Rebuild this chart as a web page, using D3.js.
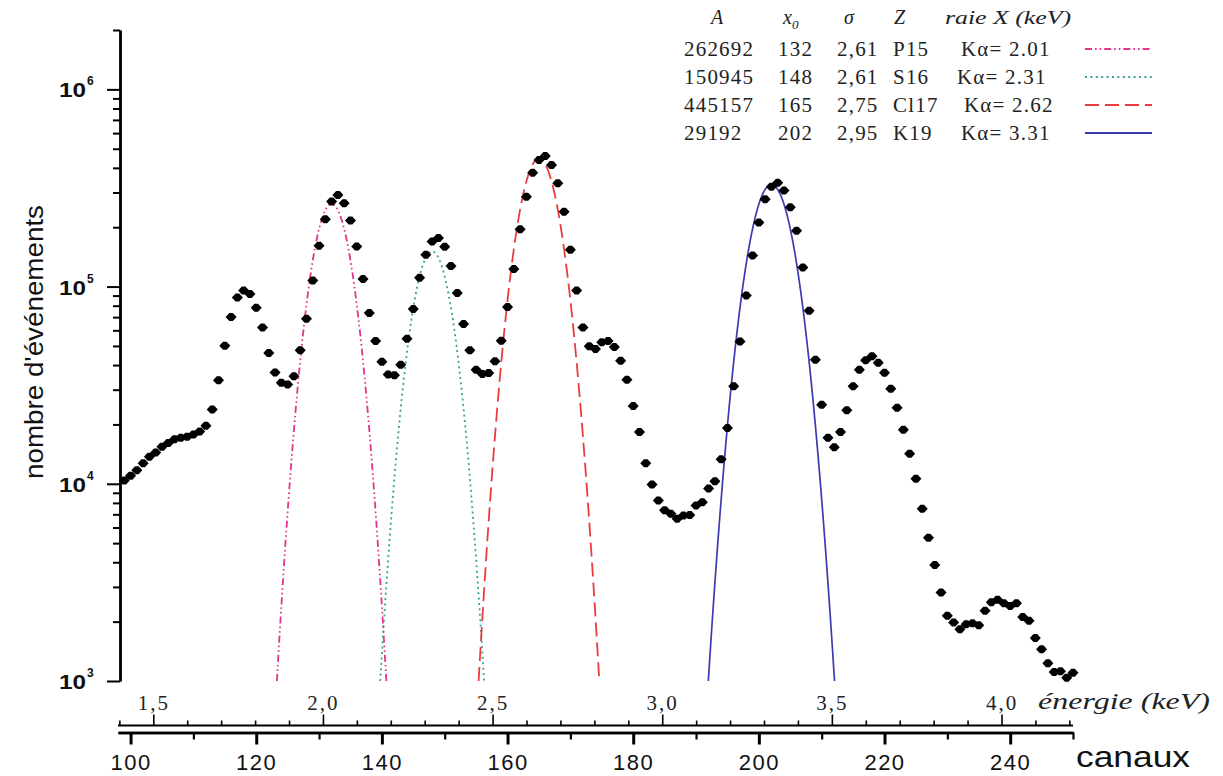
<!DOCTYPE html>
<html>
<head>
<meta charset="utf-8">
<script src="https://cdn.jsdelivr.net/npm/d3@7"></script>
<style>
  body { margin: 0; background: #fff; }
  svg { display: block; }
  .sans { font-family: "Liberation Sans", Arial, sans-serif; }
  .serif { font-family: "Liberation Serif", "Times New Roman", serif; }
</style>
</head>
<body>
<svg id="chart" width="1223" height="776"></svg>
<script>
// Measured spectrum: one count value per channel, starting at channel 99
const firstChannel = 99;
const counts = [
  10400, 11000, 11700, 12700, 13700, 14400, 15400, 16100, 16800, 17100,
  17300, 17800, 18400, 19700, 23800, 33500, 50100, 70100, 88100, 95500,
  91600, 78100, 62100, 46000, 36700, 32500, 31900, 35100, 47500, 68700,
  107400, 161000, 219600, 269700, 291500, 264800, 216100, 159600, 109400, 73400,
  53000, 41600, 35800, 35500, 40200, 54400, 76900, 110800, 144900, 169100,
  176100, 159100, 127000, 92700, 64600, 47500, 37900, 36000, 36500, 41800,
  53200, 78700, 122700, 195400, 285800, 378100, 438500, 459300, 413900, 334300,
  239900, 153600, 95500, 62100, 49800, 48300, 52200, 53000, 49400, 42100,
  33700, 24800, 18300, 12700, 9910, 8230, 7350, 7050, 6650, 6910,
  6940, 7770, 8070, 9470, 10300, 13300, 19200, 31200, 52700, 90200,
  143600, 211200, 277300, 321200, 336500, 306800, 252800, 191700, 125000, 75400,
  42600, 25200, 17100, 15300, 18300, 23600, 31200, 37900, 42300, 44300,
  41100, 36600, 30300, 24300, 18800, 14200, 10600, 7470, 5330, 3870,
  2810, 2140, 1980, 1830, 1940, 1960, 1920, 2270, 2510, 2580,
  2480, 2400, 2480, 2110, 2020, 1650, 1450, 1230, 1110, 1120,
  1040, 1100
];

// Gaussian fits of the K-alpha lines
const fitAmplitudes = [262692, 150945, 445157, 329192];
const fitCentroids = [132, 148, 165, 202];
const fitSigmas = [2.61, 2.61, 2.75, 2.95];
const fitColors = ["#e5338c", "#35a39c", "#ea3c3c", "#3b3bb2"];
const fitDashes = ["7,3,1.6,3,1.6,3", "2,3.4", "14,6", null];

// Legend table
const legendA = ["262692", "150945", "445157", "29192"];
const legendX0 = ["132", "148", "165", "202"];
const legendSigma = ["2,61", "2,61", "2,75", "2,95"];
const legendZ = ["P15", "S16", "Cl17", "K19"];
const legendKa = ["2.01", "2.31", "2.62", "3.31"];

// Axis ticks
const channelMajor = [100, 120, 140, 160, 180, 200, 220, 240];
const channelMinor = [110, 130, 150, 170, 190, 210, 230, 250];
const energyMajor = [1.5, 2.0, 2.5, 3.0, 3.5, 4.0];
const energyLabels = ["1,5", "2,0", "2,5", "3,0", "3,5", "4,0"];
const energyMinor = [1.4, 1.6, 1.7, 1.8, 1.9, 2.1, 2.2, 2.3, 2.4, 2.6, 2.7, 2.8, 2.9,
                     3.1, 3.2, 3.3, 3.4, 3.6, 3.7, 3.8, 3.9, 4.1, 4.2];
const countMajor = [1e3, 1e4, 1e5, 1e6];
const countExponents = ["3", "4", "5", "6"];

const svg = d3.select("#chart");

const x = d3.scaleLinear().domain([98, 250]).range([118, 1073]);
const energy = d3.scaleLinear().domain([1.5, 4.0]).range([153.3, 1001.5]);
const y = d3.scaleLog().domain([1e3, 2e6]).range([681, 30]);

const countMinor = [];
[1e3, 1e4, 1e5].forEach(d => { for (let k = 2; k <= 9; k++) countMinor.push(d * k); });
countMinor.push(2e6);

// ---- y axis ----
const yAxisX = 120;
const gyMinor = svg.append("g").attr("transform", `translate(${yAxisX},0)`)
  .call(d3.axisLeft(y).tickValues(countMinor).tickSize(7).tickSizeOuter(0).tickFormat(""));
const gyMajor = svg.append("g").attr("transform", `translate(${yAxisX},0)`)
  .call(d3.axisLeft(y).tickValues(countMajor).tickSize(13).tickSizeOuter(0).tickFormat(""));
[gyMinor, gyMajor].forEach(g => {
  g.selectAll("path.domain").attr("stroke", "#000").attr("stroke-width", 2.4);
  g.selectAll(".tick line").attr("stroke", "#000").attr("stroke-width", 2);
});

const yLabels = svg.append("g").attr("class", "sans");
countMajor.forEach((v, i) => {
  yLabels.append("text")
    .attr("x", 59).attr("y", y(v) + 8)
    .attr("font-size", 21).attr("font-weight", "bold").attr("fill", "#111")
    .attr("textLength", 27).attr("lengthAdjust", "spacingAndGlyphs")
    .text("10");
  yLabels.append("text")
    .attr("x", 87).attr("y", y(v) - 4)
    .attr("font-size", 12).attr("font-weight", "bold").attr("fill", "#111")
    .text(countExponents[i]);
});

svg.append("text").attr("class", "sans")
  .attr("transform", "translate(43,342) rotate(-90)")
  .attr("text-anchor", "middle")
  .attr("font-size", 26).attr("fill", "#111")
  .attr("textLength", 274).attr("lengthAdjust", "spacingAndGlyphs")
  .text("nombre d'événements");

// ---- energy axis (top of the double axis) ----
const energyY = 725.5;
const geMinor = svg.append("g").attr("transform", `translate(0,${energyY})`)
  .call(d3.axisTop(energy).tickValues(energyMinor).tickSize(5).tickSizeOuter(0).tickFormat(""));
const geMajor = svg.append("g").attr("transform", `translate(0,${energyY})`)
  .call(d3.axisTop(energy).tickValues(energyMajor).tickSize(11).tickSizeOuter(0)
    .tickPadding(5).tickFormat((d, i) => energyLabels[i]));
[geMinor, geMajor].forEach(g => {
  g.select("path.domain").remove();
  g.selectAll(".tick line").attr("stroke", "#000").attr("stroke-width", 1.6);
});
geMajor.selectAll(".tick text")
  .attr("class", "serif").attr("font-size", 21).attr("fill", "#222")
  .attr("letter-spacing", "2px");
svg.append("line")
  .attr("x1", x.range()[0]).attr("x2", x.range()[1])
  .attr("y1", energyY).attr("y2", energyY)
  .attr("stroke", "#000").attr("stroke-width", 2);

svg.append("text").attr("class", "serif")
  .attr("x", 1038).attr("y", 709)
  .attr("font-size", 23).attr("font-style", "italic").attr("fill", "#222")
  .attr("textLength", 172).attr("lengthAdjust", "spacingAndGlyphs")
  .text("énergie (keV)");

// ---- channel axis (bottom of the double axis) ----
const channelY = 732.5;
const gcMinor = svg.append("g").attr("transform", `translate(0,${channelY})`)
  .call(d3.axisBottom(x).tickValues(channelMinor).tickSize(7).tickSizeOuter(0).tickFormat(""));
const gcMajor = svg.append("g").attr("transform", `translate(0,${channelY})`)
  .call(d3.axisBottom(x).tickValues(channelMajor).tickSize(12).tickSizeOuter(0).tickPadding(10));
[gcMinor, gcMajor].forEach(g => {
  g.selectAll("path.domain").attr("stroke", "#000").attr("stroke-width", 2.4);
  g.selectAll(".tick line").attr("stroke", "#000");
});
gcMinor.selectAll(".tick line").attr("stroke-width", 2.2);
gcMajor.selectAll(".tick line").attr("stroke-width", 3);
gcMajor.selectAll(".tick text")
  .attr("class", "sans").attr("font-size", 22).attr("fill", "#111")
  .attr("letter-spacing", "1.5px");

svg.append("text").attr("class", "sans")
  .attr("x", 1076).attr("y", 767)
  .attr("font-size", 29).attr("fill", "#111")
  .attr("textLength", 114).attr("lengthAdjust", "spacingAndGlyphs")
  .text("canaux");

// ---- fitted Gaussian lines ----
const fitLine = d3.line().x(d => x(d[0])).y(d => y(d[1]));
fitAmplitudes.forEach((A, i) => {
  const x0 = fitCentroids[i], s = fitSigmas[i];
  const half = s * Math.sqrt(2 * Math.log(A / y.domain()[0]));
  const pts = d3.range(0, 301).map(k => {
    const c = x0 - half + (2 * half) * k / 300;
    return [c, Math.max(y.domain()[0], A * Math.exp(-((c - x0) ** 2) / (2 * s * s)))];
  });
  svg.append("path")
    .attr("d", fitLine(pts))
    .attr("fill", "none")
    .attr("stroke", fitColors[i])
    .attr("stroke-width", i === 3 ? 1.7 : 1.8)
    .attr("stroke-dasharray", fitDashes[i]);
});

// ---- measured points ----
const marker = "M-5.5,0 L-1.8,-4 L1.8,-4 L5.5,0 L1.8,4 L-1.8,4 Z";
svg.append("g").selectAll("path")
  .data(counts)
  .join("path")
  .attr("d", marker)
  .attr("transform", (d, i) => `translate(${x(firstChannel + i)},${y(d)})`)
  .attr("fill", "#000");

// ---- legend table ----
const legend = svg.append("g").attr("class", "serif").attr("fill", "#222");
const headerY = 24;
const rowY = [49, 77, 105, 133];
legend.append("text").attr("x", 711).attr("y", headerY).attr("font-size", 20)
  .attr("font-style", "italic").text("A");
const x0Head = legend.append("text").attr("x", 783).attr("y", headerY).attr("font-size", 20)
  .attr("font-style", "italic");
x0Head.append("tspan").text("x");
x0Head.append("tspan").attr("font-size", 13).attr("dy", 5).text("0");
legend.append("text").attr("x", 844).attr("y", headerY).attr("font-size", 20)
  .attr("font-style", "italic").text("σ");
legend.append("text").attr("x", 894).attr("y", headerY).attr("font-size", 20)
  .attr("font-style", "italic").text("Z");
legend.append("text").attr("x", 945).attr("y", headerY).attr("font-size", 19)
  .attr("font-style", "italic").attr("textLength", 126).attr("lengthAdjust", "spacingAndGlyphs")
  .text("raie X (keV)");

const colX = { a: 684, x0: 778, sigma: 837, z: 893 };
const kaX = [961, 957, 964, 961];
rowY.forEach((ry, i) => {
  const row = legend.append("g").attr("font-size", 21).attr("letter-spacing", "1.2px");
  row.append("text").attr("x", colX.a).attr("y", ry + 7).text(legendA[i]);
  row.append("text").attr("x", colX.x0).attr("y", ry + 7).text(legendX0[i]);
  row.append("text").attr("x", colX.sigma).attr("y", ry + 7).text(legendSigma[i]);
  row.append("text").attr("x", colX.z).attr("y", ry + 7).text(legendZ[i]);
  row.append("text").attr("x", kaX[i]).attr("y", ry + 7).text("Kα= " + legendKa[i]);
  svg.append("line")
    .attr("x1", 1085).attr("x2", 1152).attr("y1", ry).attr("y2", ry)
    .attr("stroke", fitColors[i]).attr("stroke-width", 1.8)
    .attr("stroke-dasharray", fitDashes[i]);
});
</script>
</body>
</html>
